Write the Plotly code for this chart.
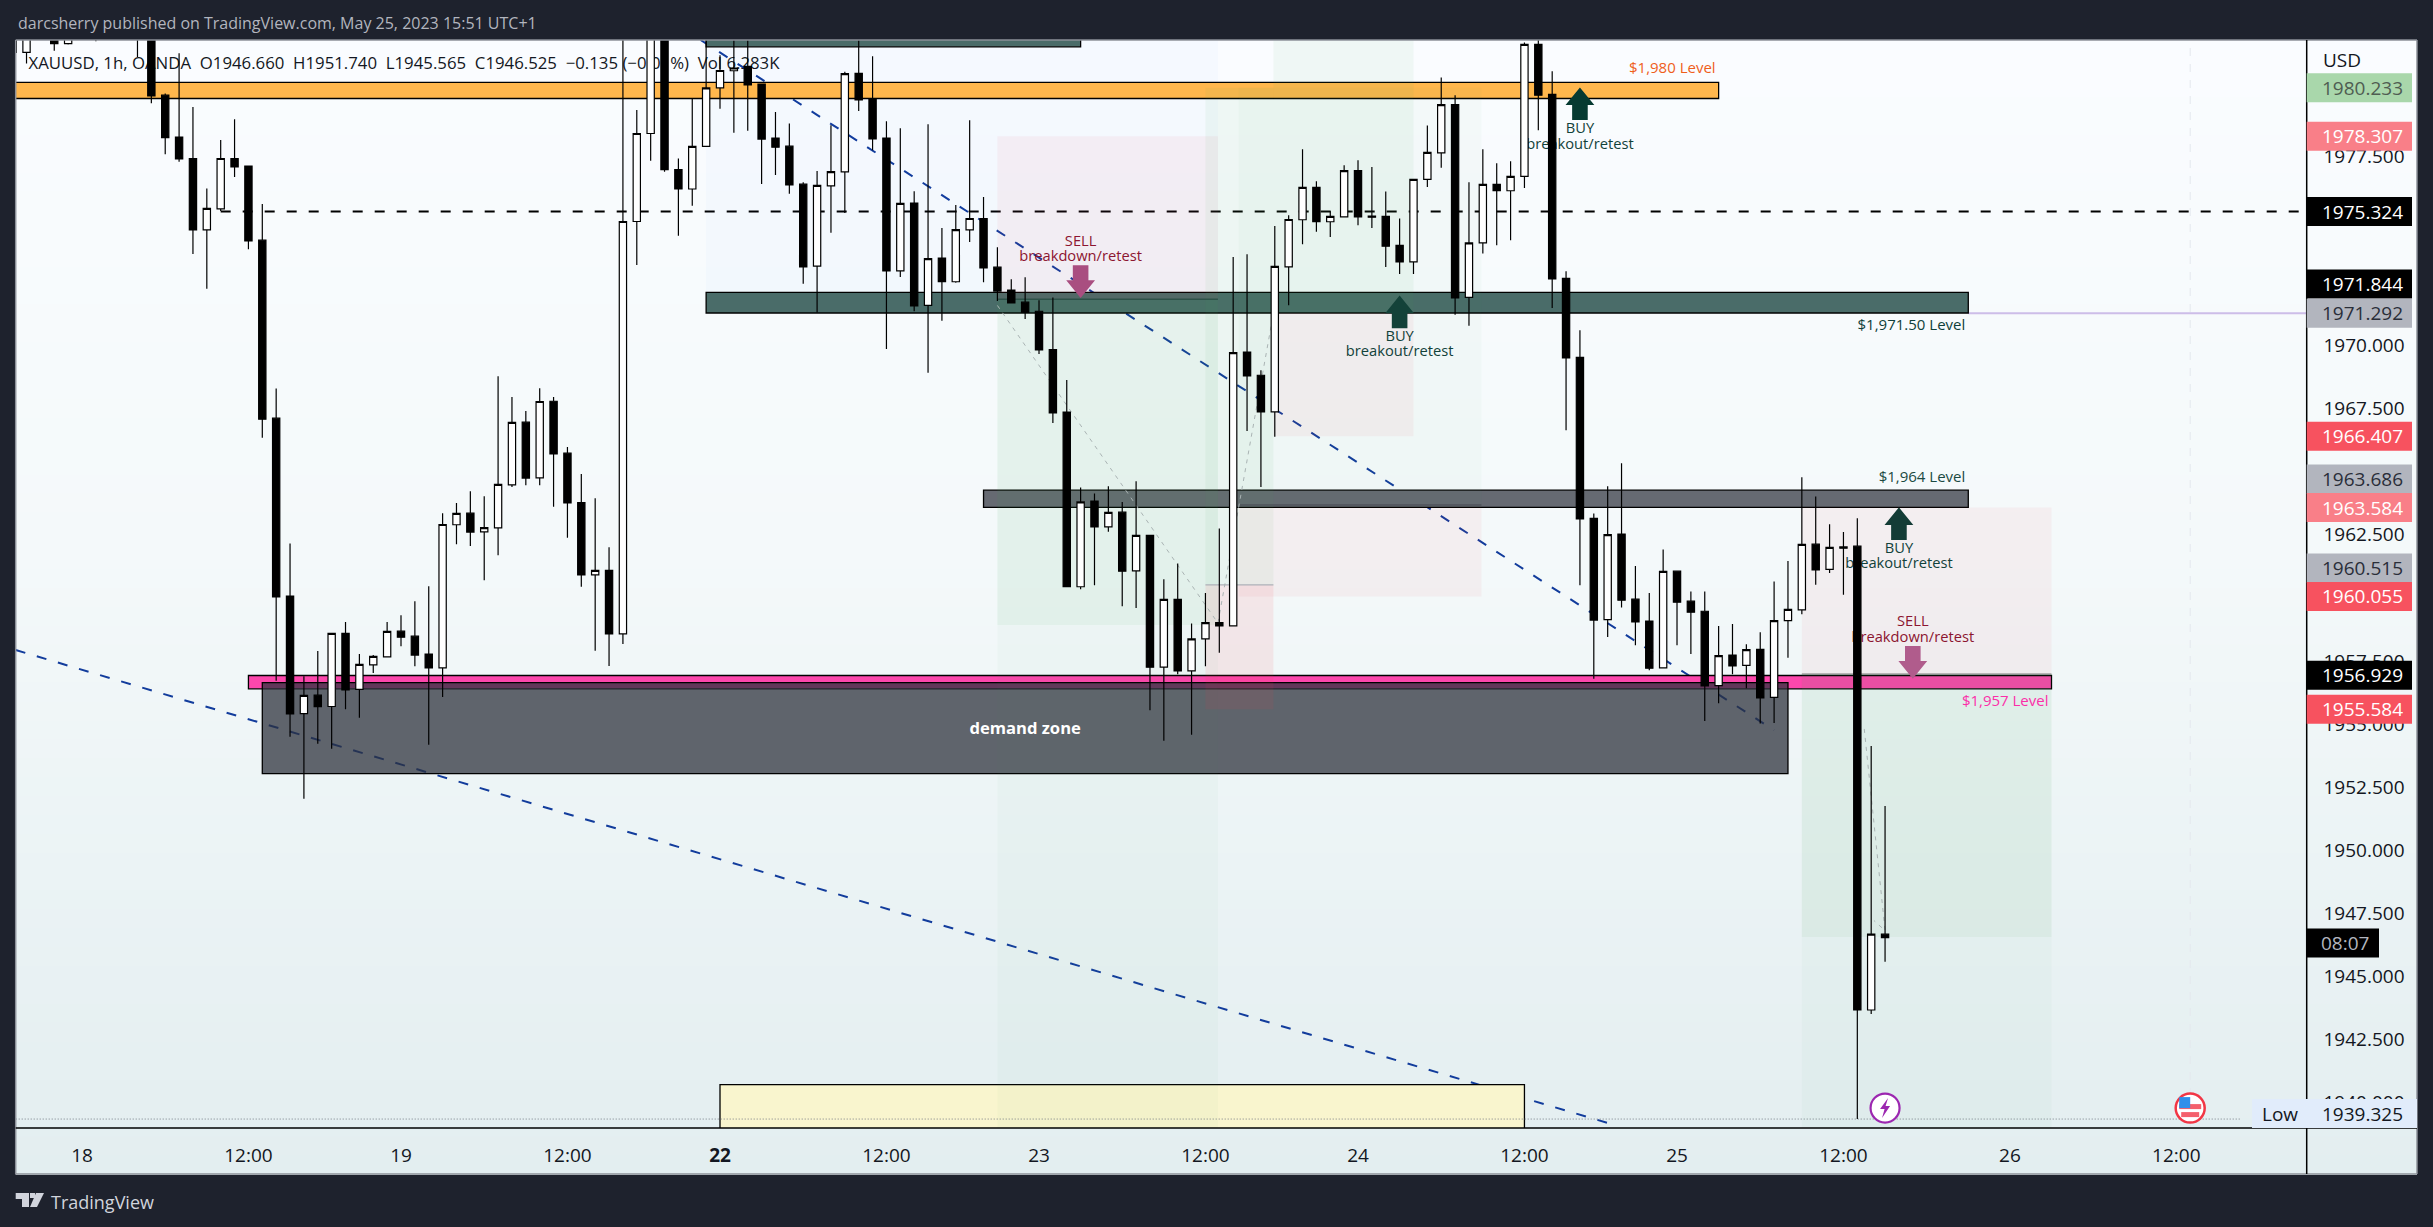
import plotly.graph_objects as go

# ---------- data (bar index, prices) ----------
bar_start = -5
high = [1983.5,1983.5,1984,1983.6,1983.5,1984,1984,1984,1984,1984,1983.6,
 1980.01,1981.60,1979.47,1976.24,1978.16,1978.99,1977.13,1975.62,1968.31,1962.16,
 1956.89,1957.89,1958.60,1959.04,1957.77,1957.73,1959.04,1959.31,1959.87,1960.46,
 1963.36,1963.76,1964.23,1964.03,1968.79,1967.97,1967.41,1968.32,1967.97,1965.98,
 1964.91,1963.95,1962.01,1983.0,1979.35,1984,1984,1977.43,1979.81,1983.0,
 1981.53,1983.0,1983.0,1980.38,1979.27,1978.82,1976.49,1976.93,1978.75,1980.87,
 1983.0,1981.49,1978.91,1978.63,1976.13,1978.79,1974.67,1975.58,1978.95,1975.90,
 1973.91,1972.64,1972.72,1971.81,1971.92,1968.64,1964.38,1964.14,1964.43,1963.80,
 1964.63,1962.48,1960.74,1961.36,1958.98,1960.19,1962.75,1973.52,1973.63,1969.03,
 1974.75,1975.18,1977.80,1976.53,1975.34,1977.16,1977.36,1977.09,1976.12,1975.05,
 1976.60,1978.74,1980.64,1979.94,1976.49,1977.80,1977.24,1977.32,1982.03,1983.0,
 1980.89,1972.96,1970.62,1963.35,1964.43,1965.34,1961.26,1960.19,1961.92,1961.06,
 1960.25,1960.25,1958.88,1958.96,1958.16,1958.64,1960.65,1961.46,1964.78,1964.02,
 1962.92,1962.61,1963.16,1954.12,1951.74]
body_top = [1983.0,1983.0,1983.6,1983.0,1983.0,1983.6,1983.3,1983.6,1983.6,1983.6,1982.8,
 1979.94,1978.28,1977.43,1975.45,1977.43,1977.43,1977.13,1974.19,1967.13,1960.07,
 1956.13,1956.14,1958.59,1958.59,1957.36,1957.68,1958.67,1958.68,1958.48,1957.77,
 1962.91,1963.35,1963.36,1962.79,1964.50,1966.96,1966.97,1967.79,1967.80,1965.74,
 1963.78,1961.09,1961.09,1974.93,1978.42,1983.0,1983.2,1976.99,1977.91,1980.23,
 1980.92,1981.02,1981.08,1980.38,1978.24,1977.92,1976.41,1976.36,1976.91,1980.80,
 1980.81,1979.79,1978.24,1975.65,1975.66,1973.46,1973.48,1974.61,1975.05,1975.05,
 1973.12,1972.21,1971.73,1971.37,1969.85,1967.37,1963.81,1963.84,1963.39,1963.40,
 1962.48,1962.48,1959.94,1959.94,1958.37,1959.02,1959.02,1969.73,1969.75,1968.83,
 1973.15,1975.01,1976.28,1976.28,1975.13,1976.95,1976.95,1975.14,1975.13,1973.98,
 1976.60,1977.67,1979.57,1979.57,1974.08,1976.40,1976.40,1976.72,1981.96,1981.96,
 1979.97,1972.67,1969.54,1963.15,1962.51,1962.53,1959.95,1959.08,1961.05,1961.06,
 1959.87,1959.47,1957.71,1957.73,1957.95,1957.96,1959.10,1959.54,1962.12,1962.13,
 1962.00,1962.02,1962.05,1946.66,1946.66]
body_bottom = [1981.64,1981.64,1983.0,1981.99,1981.99,1983.0,1982.7,1983.0,1983.0,1982.8,1979.91,
 1978.26,1977.41,1974.60,1974.60,1975.43,1977.10,1974.16,1967.09,1960.04,1955.40,
 1955.41,1955.68,1955.69,1956.35,1956.37,1957.34,1957.66,1958.44,1957.73,1957.22,
 1957.22,1962.90,1962.61,1962.62,1962.78,1964.48,1964.75,1964.76,1965.71,1963.77,
 1960.91,1960.91,1958.57,1958.57,1974.93,1978.42,1976.99,1976.22,1976.22,1977.91,
 1980.23,1980.91,1980.35,1978.20,1977.88,1976.38,1973.13,1973.16,1976.34,1976.90,
 1979.75,1978.21,1972.97,1972.97,1971.58,1971.60,1972.54,1972.54,1974.60,1973.09,
 1972.17,1971.70,1971.32,1969.84,1967.34,1960.44,1960.44,1962.82,1962.82,1961.06,
 1961.07,1957.25,1957.25,1957.10,1957.10,1958.37,1958.89,1958.89,1968.81,1967.38,
 1967.38,1973.13,1975.00,1974.92,1974.92,1975.11,1975.11,1975.10,1973.95,1973.33,
 1973.33,1976.60,1977.65,1971.90,1971.92,1974.08,1976.15,1976.15,1976.72,1979.94,
 1972.65,1969.52,1963.13,1959.12,1959.14,1959.91,1959.05,1957.21,1957.22,1959.83,
 1959.43,1956.51,1956.52,1957.30,1957.32,1956.03,1956.05,1959.10,1959.52,1961.11,
 1961.13,1961.97,1943.65,1943.65,1946.525]
low = [1981.3,1981.20,1982.6,1981.70,1981.95,1982.5,1982.08,1982.6,1982.6,1981.46,1979.62,
 1977.60,1977.30,1973.64,1972.26,1975.35,1976.70,1973.83,1966.35,1956.71,1954.49,
 1952.03,1954.21,1954.01,1955.58,1955.24,1957.02,1957.66,1958.08,1957.29,1954.17,
 1956.07,1962.13,1962.06,1960.70,1961.69,1964.40,1964.47,1964.47,1963.61,1962.38,
 1960.44,1957.90,1957.30,1958.17,1973.20,1977.34,1976.90,1974.36,1975.55,1977.91,
 1979.40,1978.45,1978.53,1976.42,1976.77,1976.03,1972.46,1971.32,1974.48,1975.27,
 1979.31,1977.76,1969.87,1972.73,1971.37,1968.93,1970.99,1972.50,1974.12,1972.52,
 1971.78,1971.69,1971.06,1969.67,1966.94,1960.44,1960.34,1960.50,1962.62,1959.67,
 1959.60,1955.54,1954.33,1956.97,1954.57,1957.29,1957.82,1958.89,1966.62,1964.40,
 1966.39,1971.61,1974.03,1974.52,1974.32,1975.11,1974.78,1974.67,1973.13,1972.85,
 1972.85,1976.30,1977.06,1971.23,1970.79,1973.66,1973.99,1974.19,1976.26,1978.55,
 1971.50,1966.65,1960.50,1956.79,1958.45,1959.62,1958.12,1957.13,1957.22,1958.12,
 1957.77,1955.12,1955.82,1956.97,1956.41,1955.02,1955.04,1957.62,1959.35,1960.52,
 1960.99,1960.12,1939.325,1943.49,1945.565]
is_up = [0,1,0,0,1,1,1,0,1,0,0,
 0,0,0,1,1,0,0,0,0,0,
 1,0,1,0,1,1,1,0,0,0,
 1,1,0,1,1,1,0,1,0,0,
 0,1,0,1,1,1,0,0,1,1,
 1,1,0,0,0,0,0,1,1,1,
 0,0,0,1,0,1,0,1,1,0,
 0,0,0,0,0,0,1,0,1,0,
 1,0,1,0,1,1,0,1,0,0,
 1,1,1,0,1,1,0,0,0,0,
 1,1,1,0,1,1,0,1,1,0,
 0,0,0,0,1,0,0,0,1,0,
 0,0,1,0,1,0,1,1,1,0,
 1,0,0,1,0]

tick_bars = [0,12,23,35,46,58,69,81,92,104,115,127,139,151]
tick_text = ["18","12:00","19","12:00","<b>22</b>","12:00","23","12:00","24","12:00","25","12:00","26","12:00"]

level_tags = [  # price, background, text colour, pixels lifted so that tags do not collide
 (1980.233,"#a9d7ab","#4f5d52",0),(1978.307,"#f97f88","#ffffff",0),(1975.324,"#000000","#ffffff",0),
 (1971.844,"#000000","#ffffff",15.3),(1971.292,"#b2b5be","#2a2e39",0),(1966.407,"#f7525f","#ffffff",0),
 (1963.686,"#b2b5be","#2a2e39",26),(1963.584,"#f97f88","#ffffff",0),(1960.515,"#b2b5be","#2a2e39",17),
 (1960.055,"#f7525f","#ffffff",0),(1956.929,"#000000","#ffffff",0),(1955.584,"#f7525f","#ffffff",0)]
low_price = 1939.325
countdown_price = 1946.525

W, H = 2433, 1227
LEFT, RIGHT, TOP, BOTTOM = 15.7, 2306.7, 40, 1128
PANEL_R, PANEL_B = 2417, 1174
X_RANGE = [-4.78, 160.4]
Y_RANGE = [1938.97, 1982.13]
UI = "Open Sans"

opens = [b if u else t for t, b, u in zip(body_top, body_bottom, is_up)]
closes = [t if u else b for t, b, u in zip(body_top, body_bottom, is_up)]
bars = list(range(bar_start, bar_start + len(high)))

fig = go.Figure(go.Candlestick(
    x=bars, open=opens, high=high, low=low, close=closes,
    increasing=dict(line=dict(color="#000000", width=1.2), fillcolor="#ffffff"),
    decreasing=dict(line=dict(color="#000000", width=1.2), fillcolor="#000000"),
    whiskerwidth=0, hoverinfo="skip", showlegend=False))

shapes = []
def px(x): return x / W
def py(y): return 1 - y / H
def hex_mix(a, b, t):
    ca = [int(a[i:i+2], 16) for i in (1, 3, 5)]
    cb = [int(b[i:i+2], 16) for i in (1, 3, 5)]
    return "rgb(%d,%d,%d)" % tuple(round(p + (q - p) * t) for p, q in zip(ca, cb))

# panel background with vertical gradient
n = 60
for k in range(n):
    y0 = TOP + (PANEL_B - TOP) * k / n
    y1 = TOP + (PANEL_B - TOP) * (k + 1) / n + 1
    t = k / (n - 1)
    c = hex_mix("#fafcff", "#f4f9fa", t / 0.45) if t < 0.45 else hex_mix("#f4f9fa", "#e3eef0", (t - 0.45) / 0.55)
    shapes.append(dict(type="rect", xref="paper", yref="paper", x0=px(LEFT), x1=px(PANEL_R), y0=py(y0), y1=py(y1),
                       fillcolor=c, line_width=0, layer="below"))

def rect(i0, i1, p0, p1, fill, border=None):
    shapes.append(dict(type="rect", xref="x", yref="y", x0=i0, x1=i1, y0=p0, y1=p1, fillcolor=fill, layer="below",
                       line=dict(color=border or "rgba(0,0,0,0)", width=1.3 if border else 0)))
def line(i0, p0, i1, p1, color, width=1, dash="solid"):
    shapes.append(dict(type="line", xref="x", yref="y", x0=i0, x1=i1, y0=p0, y1=p1, layer="below",
                       line=dict(color=color, width=width, dash=dash)))
def poly(points, color, width=1, dash="4px,5px"):
    path = "M" + " L".join(f"{a},{b}" for a, b in points)
    shapes.append(dict(type="path", xref="x", yref="y", path=path, layer="below", line=dict(color=color, width=width, dash=dash)))
def label(i, p, text, color, size=14.7, pos="middle center", bold=False, xref="x"):
    t = f"<b>{text}</b>" if bold else text
    shapes.append(dict(type="rect", xref=xref, yref="y", x0=i, x1=i, y0=p, y1=p, layer="below", line_width=0,
                       fillcolor="rgba(0,0,0,0)",
                       label=dict(text=t, font=dict(family=UI, size=size, color=color), textposition=pos, padding=0)))
def arrow(i, p, direction, color):
    s = -1 if direction == "up" else 1
    pts = [(0, 0), (14.4, 17.7), (7.8, 17.7), (7.8, 32.7), (-7.8, 32.7), (-7.8, 17.7), (-14.4, 17.7)]
    path = "M" + " L".join(f"{a},{s*b}" for a, b in pts) + " Z"
    shapes.append(dict(type="path", xref="x", yref="y", xsizemode="pixel", ysizemode="pixel", xanchor=i, yanchor=p,
                       path=path, fillcolor=color, line_width=0, layer="below"))

BLUE = "#123c9c"
line(-4.78, 1957.93, 110, 1939.17, BLUE, 2, "10px,12px")
line(44.6, 1982.13, 122, 1954.75, BLUE, 2, "10px,12px")
line(10, 1975.324, 160, 1975.324, "#000000", 2, "10px,12px")
line(152, Y_RANGE[0], 152, Y_RANGE[1], "#e4e8ee", 1, "8px,8px")
line(136, 1971.292, 160.4, 1971.292, "#cdbde8", 2)

# light boxes behind everything
rect(45, 81.9, 1983, 1972.13, "rgba(33,120,243,0.025)")
# yellow zone
rect(46, 104, 1940.69, 1938, "#f9f5ce", "#000000")
line(-4.78, low_price, 155.6, low_price, "#787b86", 1, "1px,2px")
# key levels
rect(-6, 118, 1980.45, 1979.81, "#ffb74d", "#000000")
rect(45, 136, 1972.12, 1971.30, "#4a6c69", "#000000")
rect(45, 72, 1983, 1981.86, "#4a6c69", "#000000")
rect(65, 136, 1964.27, 1963.59, "#666a72", "#000000")
rect(12, 142, 1956.92, 1956.39, "#fc47ac", "#000000")
rect(13, 123, 1956.64, 1953.03, "rgba(45,49,60,0.74)", "#000000")

PINK = "rgba(242,54,69,0.055)"
GREEN = "rgba(76,175,80,0.06)"
FAINT = "rgba(76,175,80,0.03)"
rect(66, 81.9, 1978.307, 1971.844, PINK)
rect(66, 81.9, 1971.844, 1958.92, GREEN)
rect(66, 81.9, 1971.844, 1938.0, FAINT)
rect(81, 85.9, 1980.233, 1960.515, GREEN)
rect(81, 85.9, 1960.515, 1955.584, "rgba(242,54,69,0.09)")
rect(83.4, 100.9, 1980.233, 1963.584, FAINT)
rect(83.4, 100.9, 1963.584, 1960.055, PINK)
rect(85.9, 96, 1983.0, 1971.3, GREEN)
rect(85.9, 96, 1971.3, 1966.407, PINK)
rect(124, 142, 1963.584, 1956.98, PINK)
rect(124, 142, 1956.98, 1946.55, GREEN)
rect(124, 142, 1956.98, 1938.0, FAINT)
line(66, 1971.844, 81.9, 1971.844, "rgba(20,60,50,0.55)", 1.5)
line(83.4, 1963.686, 100.9, 1963.686, "rgba(60,60,70,0.5)", 1.5)
line(81, 1960.515, 85.9, 1960.515, "#aeb1b8", 1.2)
line(124, 1956.98, 142, 1956.98, "rgba(90,90,90,0.5)", 1.5)

GREY = "#aab4b4"
poly([(66, 1971.6), (81.9, 1959.0), (86, 1971.6)], GREY)
poly([(128.5, 1954.8), (130, 1946.8), (129.2, 1947.2)], GREY)

# arrows and text, kept under the candles as in the reference
arrow(72, 1971.90, "down", "#a94e80")
arrow(95, 1971.99, "up", "#134239")
arrow(108, 1980.25, "up", "#063a31")
arrow(131, 1963.59, "up", "#133c36")
arrow(132, 1956.79, "down", "#b05c8c")

RED_T, TEAL_T = "#8c1530", "#12423a"
for i, p1, p2, word, col in [(72, 1974.16, 1973.55, "SELL", RED_T), (95, 1970.39, 1969.79, "BUY", TEAL_T),
                             (108, 1978.61, 1977.99, "BUY", TEAL_T), (131, 1961.98, 1961.39, "BUY", TEAL_T),
                             (132, 1959.07, 1958.44, "SELL", RED_T)]:
    label(i, p1, word, col)
    label(i, p2, "breakdown/retest" if word == "SELL" else "breakout/retest", col)
label(118, 1981.0, "$1,980 Level", "#ef5e1b", 15, "middle right")
label(136, 1970.83, "$1,971.50 Level", "#0f3f3a", 15, "middle right")
label(136, 1964.81, "$1,964 Level", "#1b4a42", 15, "middle right")
label(142, 1955.90, "$1,957 Level", "#fb2fa8", 15, "middle right")
label(68, 1954.82, "demand zone", "#ffffff", 16.6, bold=True)
label(px(25.5), 1981.2, "XAUUSD, 1h, OANDA\u00a0\u00a0O1946.660\u00a0\u00a0H1951.740\u00a0\u00a0L1945.565\u00a0\u00a0C1946.525\u00a0\u00a0\u22120.135\u00a0(\u22120.01%)\u00a0\u00a0Vol\u00a06.283K",
      "#131722", 16.8, "middle left", xref="paper")

# frame and axis lines
def frame_line(x0, y0, x1, y1, color, width=1.5):
    shapes.append(dict(type="line", xref="paper", yref="paper", x0=px(x0), x1=px(x1), y0=py(y0), y1=py(y1),
                       line=dict(color=color, width=width), layer="above"))
frame_line(LEFT, TOP, PANEL_R, TOP, "#8d9199", 1.5)
frame_line(PANEL_R, TOP, PANEL_R, PANEL_B, "#8d9199", 1.5)
frame_line(LEFT, PANEL_B, PANEL_R, PANEL_B, "#8d9199", 1.5)
frame_line(LEFT, TOP, LEFT, PANEL_B, "#8d9199", 1.5)
frame_line(LEFT, BOTTOM, PANEL_R, BOTTOM, "#000000", 1.5)
frame_line(RIGHT, TOP, RIGHT, PANEL_B, "#000000", 1.5)

# price tags
anns = []
def tag(price, bg, fg, text, x0=RIGHT, x1=2412, tx=None, anchor="center", lift=0):
    shapes.append(dict(type="rect", xref="paper", yref="y", x0=px(x0), x1=px(x1), ysizemode="pixel", yanchor=price,
                       y0=lift - 14.5, y1=lift + 14.5, fillcolor=bg, line_width=0, layer="above"))
    anns.append(dict(xref="paper", yref="y", x=px(tx if tx else (2320.5 + 2403.6) / 2), y=price, text=text, showarrow=False,
                     xanchor=anchor, yanchor="middle", yshift=lift, font=dict(family=UI, size=19, color=fg)))
for price, bg, fg, lift in level_tags:
    tag(price, bg, fg, f"{price:.3f}", lift=lift)
tag(countdown_price - 0.22, "#000000", "#b2b5be", "08:07", RIGHT, 2379, 2345)
tag(low_price + 0.22, "#e1ecfb", "#131722", "1939.325", 2252, PANEL_R)
anns.append(dict(xref="paper", yref="y", x=px(2280), y=low_price + 0.22, text="Low", showarrow=False, xanchor="center",
                 font=dict(family=UI, size=19, color="#131722")))

# event markers
MARK_Y = 1939.76
def circle(i, r_px, fill, border, w):
    shapes.append(dict(type="circle", xref="x", yref="y", xsizemode="pixel", ysizemode="pixel", xanchor=i, yanchor=MARK_Y,
                       x0=-r_px, x1=r_px, y0=-r_px, y1=r_px, fillcolor=fill, line=dict(color=border, width=w), layer="above"))
def glyph(i, path, fill):
    shapes.append(dict(type="path", xref="x", yref="y", xsizemode="pixel", ysizemode="pixel", xanchor=i, yanchor=MARK_Y,
                       path=path, fillcolor=fill, line_width=0, layer="above"))
circle(130, 14.5, "#ffffff", "#9c27b0", 2.2)
glyph(130, "M3,10 L-5,-1 L-0.5,-1 L-3,-10 L5,2 L0.5,2 Z", "#9c27b0")
circle(152, 14.5, "#ffffff", "#f23645", 2.5)
glyph(152, "M-11,4 L11,4 L11,-1 L-11,-1 Z", "#f4606c")
glyph(152, "M-9,-4 L9,-4 L9,-9 L-9,-9 Z", "#f4606c")
glyph(152, "M-11,11 L0,11 L0,0 L-11,0 Z", "#2f8fea")

# TradingView logo
def logo(path):
    shapes.append(dict(type="path", xref="paper", yref="paper", path=path, fillcolor="#d1d4dc", line_width=0, layer="above"))
def P(a, b): return f"{px(a)},{py(b)}"
logo("M" + P(15.7, 1193) + " L" + P(29, 1193) + " L" + P(29, 1207) + " L" + P(22, 1207) + " L" + P(22, 1199) + " L" + P(15.7, 1199) + " Z")
logo("M" + P(36, 1193) + " L" + P(44, 1193) + " L" + P(37, 1207) + " L" + P(30, 1207) + " Z")
logo("M" + P(30, 1193) + " L" + P(35, 1193) + " L" + P(35, 1198) + " L" + P(30, 1198) + " Z")

anns.append(dict(xref="paper", yref="paper", x=px(LEFT), y=py(23.3), xanchor="left", yanchor="middle", showarrow=False,
                 text="darcsherry published on TradingView.com, May 25, 2023 15:51 UTC+1",
                 font=dict(family=UI, size=16, color="#b2b5be")))
anns.append(dict(xref="paper", yref="paper", x=px(49), y=py(1201.7), xanchor="left", yanchor="middle", showarrow=False,
                 text="TradingView", font=dict(family=UI, size=18, color="#d1d4dc")))
anns.append(dict(xref="paper", yref="paper", x=px(2320.5), y=py(60.5), xanchor="left", yanchor="middle", showarrow=False,
                 text="USD", font=dict(family=UI, size=19, color="#131722")))

fig.update_layout(
    width=W, height=H, autosize=False, margin=dict(l=0, r=0, t=0, b=0, pad=0),
    paper_bgcolor="#1e222d", plot_bgcolor="rgba(0,0,0,0)", showlegend=False, boxgap=0.25, boxmode="overlay",
    shapes=shapes, annotations=anns, hovermode=False, font=dict(family=UI),
    xaxis=dict(domain=[px(LEFT), px(RIGHT)], range=X_RANGE, rangeslider=dict(visible=False), showgrid=False, zeroline=False,
               tickmode="array", tickvals=tick_bars, ticktext=tick_text, ticks="outside", ticklen=10,
               tickcolor="rgba(0,0,0,0)", tickfont=dict(family=UI, size=19, color="#131722"), showline=False, fixedrange=True),
    yaxis=dict(domain=[py(BOTTOM), py(TOP)], range=Y_RANGE, side="right", showgrid=False, zeroline=False, tick0=1940, dtick=2.5,
               tickformat=".3f", ticks="outside", ticklen=12, tickcolor="rgba(0,0,0,0)", anchor="x",
               tickfont=dict(family=UI, size=19, color="#131722"), showline=False, fixedrange=True))

fig.write_html("out.html", config=dict(displayModeBar=False, staticPlot=True),
               post_script="document.documentElement.style.background='#1e222d';document.body.style.margin='0';document.body.style.overflow='hidden';document.body.style.background='#1e222d';")
